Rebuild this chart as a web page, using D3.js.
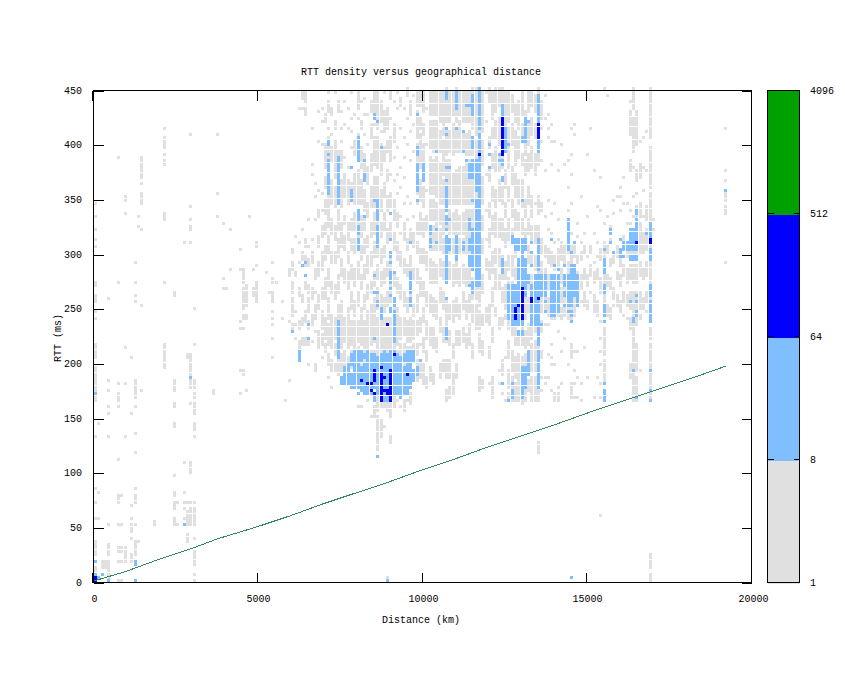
<!DOCTYPE html>
<html>
<head>
<meta charset="utf-8">
<script src="https://cdn.jsdelivr.net/npm/d3@7"></script>
<style>
body { margin: 0; background: #fff; }
text { font-family: "Liberation Mono", "DejaVu Sans Mono", monospace; font-size: 10px; fill: #000; }
</style>
</head>
<body>
<div id="chart"></div>
<script>
var xTicks = [0, 5000, 10000, 15000, 20000];
var yTicks = [0, 50, 100, 150, 200, 250, 300, 350, 400, 450];
var barTicks = [1, 8, 64, 512, 4096];
var barColors = ["#e0e0e0", "#80bfff", "#0000ff", "#00a000"];

// minimum RTT line
var minKm = [0, 1000, 2000, 3000, 3800, 5000, 6000, 7000, 8000, 9000, 10000, 11000, 12000, 13000, 14000, 15300, 16000, 17000, 18100, 19230];
var minMs = [1, 10, 21, 31, 40, 51, 61, 72, 82, 92, 103, 113, 124, 134, 144, 158, 165, 175, 186, 198];

// density cells: [distance km, "rtt ranges in ms"]
var greyRuns = [
[0,"347 334 322 313 308 275-271 263 258-255 248 242 216-204 195-166 133 86 74 57 36-24 12-9"],
[100,"144 83 59"],[300,"20-13"],[200,"20-13"],
[400,"259 185 176 159 153 132 53 33-25 20-5"],
[700,"389 275 180 173-167 159 113 79-74 53 32-27 18 2"],
[800,"80 53 32-27 18 2"],
[900,"353-350 338 215 180 134 32-20"],
[1100,"206 153 71 59 53-47 40 25-20"],
[1200,"292 275 263 256 183-170 159 137 117 86 80-73 53 36-25"],
[1300,"334 326 38"],
[1400,"389-374 371 365 356-350 345 322 254 176"],
[1800,"56-52"],
[2100,"415 407-397 392 385-381 338-331 275 218 213 210-196"],
[2400,"266-262 183-178 176 164-160 146-142 98 83-79 74-66 59-52"],
[2500,"74 53"],
[2700,"310 108 83 74 66 57"],
[2800,"208-205 74 64-52 44-38"],
[2900,"410 343 332 326-322 310 207-190 185-178 162 108-100 74 66-60 57-52"],
[3000,"250 218 185-178 173-170 162-158 155 144-139 134 74 66-60 57-52 40 27-15 8 2"],
[3600,"176 171"],
[3700,"410 355 334"],[3900,"329 276 268"],[4000,"268"],[4100,"322 287"],
[4400,"305 286 239 233 193 171"],
[4500,"286-274 268-261 259-254 249 245-240 233 193-191"],
[4600,"270-262 258-252 245-240 176"],
[4700,"334"],[4800,"287 268-263"],
[4900,"311-306 290 275-271 268-262 259-256"],
[5200,"284"],[5300,"265"],
[5400,"292 277 273 265-256 247 241 236 222 206"],
[5500,"275"],[5700,"257 242"],[5800,"167"],
[5900,"286-280 239 185"],
[6000,"303-300 291-285 273-264 258-252 249-243 234-231"],
[6100,"315 282-279 246 234 222"],
[6200,"432 309 291 267-261 237-231 219-213"],
[6300,"447-441 432 321 300-294 288 261-255 240-234 222-216"],
[6400,"447-438 432-426 312-306 297-288 273-267 246-237 222-216"],
[6500,"330 306 294-288 270-264 258-246 237-231 222-216 198"],
[6600,"414 381 372 312 300-291 267-258 243-234 219"],
[6700,"363 351 330 285-276 264 252-240 228 198-192"],
[6800,"429 402 357 339-333 315-306 291-279 261-249 228-213"],
[6900,"432 420 399 354 339 324-315 300-285 267-258 246-231 225-216 204"],
[7000,"426-420 399-378 369-360 348-336 327-318 306-294 276-258 240-222 216-210"],
[7100,"447 438-429 414 405-345 342-324 315-300 285-270 258-240 234-216 207-198 186"],
[7200,"432-426 408 396-384 366-345 330-318 300-291 273-264 243-213 201-192 177"],
[7300,"447 420-414 402-369 360-342 324-312 300-291 270-258 240-222 216-207 198-192"],
[7400,"438-429 393-345 339-321 312-297 279-264 252-240 237-204 201-189"],
[7500,"429 414 402 393-378 366-342 327-306 294-279 255-240 237-213 207-192"],
[7600,"438 417 387 372-351 333-327 315-303 285-273 240-219 210-192 186"],
[7700,"432 414 378 366-345 327-312 300-291 282-267 249-237 234-213 204-192 180"],
[7800,"447 423 411 396 363-348 330-321 312-303 288-276 264-249 237-216 210-195 183"],
[7900,"426 402-390 372-345 336-321 312-300 285-270 255-243 237-219 216-195 177"],
[8000,"447-432 423 408-384 375-345 339-327 324-303 291-276 264-252 237-219 213-190 160"],
[8100,"438 420-414 396-378 366-345 333-315 306-294 279-267 249-234 231-216 210-192 160"],
[8200,"441 426 408 390-372 357-339 330-321 312-300 288-276 261-249 237-219 216-192"],
[8300,"426 399 378-363 345-333 315-306 297-282 270-258 246-234 231-219 216-198 165"],
[8400,"438-429 417-405 390-375 360-342 327-315 300-288 273-264 252-240 237-216 210-195 150"],
[8500,"447-423 417 405-381 369-342 336-318 309-297 282-270 258-243 240-219 210-195 159-150"],
[8600,"447-414 405-378 369-345 333-315 312-297 288-276 267-249 240-219 216-198 168-156 150-120"],
[8700,"438-420 411 399-372 357-339 327-315 303-291 282-270 261-246 240-219 216-201 165-159 147-132"],
[8800,"447 429-411 396-384 363-351 336-321 306-297 285-273 258-246 240-219 216-207 165-159 141"],
[8900,"432-414 402-393 375-366 351-339 321-309 291-279 264-252 240-219 216-207 168-156 5-0"],
[9000,"447-441 423 405-384 372 354-342 327-312 297-285 270-255 240-216 213-207 162-150 132-126"],
[9100,"438 417-402 387 366 348-330 318-303 282-270 255-243 240-216 213-204 168-159"],
[9200,"447 432 396 372 354 336-324 309-294 276-264 249-237 234-216 210-198 165"],
[9300,"441-435 414 378 360 333 318 300-288 270-258 240-222 216-198 159"],
[9400,"432 405 387 369 345 327-312 294-282 264-252 240-225 216-198 165-156"],
[9500,"450-444 423 399 351 330 312-303 288-279 258-246 237-219 213-204 165"],
[9600,"438-426 411 384 345 321-309 297-285 270-258 240-219 213-204 171-162"],
[9700,"444 417 393 333 318-306 285-276 252-243 237-222 216-207 192-183"],
[9800,"447-435 429-405 399-372 369-354 345 327-318 309-300 285-273 261-246 237-225 216-207 201-183"],
[9900,"447-435 423-414 408-378 366-348 336-318 303-291 276-261 240-228 216 201-186"],
[10000,"447-429 417-408 399-366 360-342 330-315 303-291 273-261 249-237 222-210 198-180"],
[10100,"432 399 357 333-321 300-285 264-252 237-222 210-201 186-177"],
[10200,"447-426 420-396 387-354 348-330 324-303 294-273 261-246 231-216 195-183"],
[10300,"447-426 420-393 384-354 348-330 324-303 291-273 258-243 231-213 189-180"],
[10400,"447-426 420-393 387-351 345-327 324-303 288-273 255-240 222-210"],
[10500,"447-420 411-393 381-345 339-327 321-303 294-279 267-255 240-228 198-186"],
[10600,"447-408 402-372 366-345 339-318 312-300 291-276 264-249 231-219 201-192"],
[10700,"450-420 411-390 384-339 333-321 315-300 294-276 255-240 237-219 201-186 174-165"],
[10800,"447-420 411-393 384-345 339-318 312-300 291-276 252-240 228-216 201-186 177-168"],
[10900,"447-426 417-390 372-345 336-318 312-300 288-270 255-237 216-204 189-171"],
[11000,"450-420 414-393 375-345 339-315 309-300 291-273 258-243 228-216 198-186"],
[11100,"447-426 420-393 378-345 333-318 312-300 285-270 252-240 228-216"],
[11200,"447-420 411-393 378-345 336-318 312-300 288-273 264-249 231-219"],
[11300,"447-420 408-390 381-345 339-315 312-300 285-270 255-240 225-213"],
[11400,"447-420 411-390 384-345 339-315 309-300 291-273 261-246 234-216"],
[11500,"450-414 405-390 384-345 339-306 303-285 276-258 252-237 216-204"],
[11600,"450-408 402-378 372-345 339-306 303-285 276-258 252-231"],
[11700,"450-405 396-378 372-342 336-306 303-285 279-252 246-231 225-210 186-174"],
[11800,"447-411 402-381 369-345 333-321 312-300 279-264 243-234 219-207 183-177"],
[11900,"447 420 372 339 312 294-285 249-237"],
[12000,"450-438 405-396 378-366 345-333 321-306 291-276 252-234 213-204 180"],
[12100,"447-423 414-405 390-378 360-348 333-318 300-282 267-252 231-219 186-168"],
[12200,"450-429 420-405 396-375 357-342 336-315 303-291 285-267 249-243"],
[12300,"450-435 423-399 390-375 366-348 330-315 303-288 279-267 240-231 192 180"],
[12400,"450-432 423-393 390-378 360-345 330-312 297-276 267-255 240-234 201-189 171"],
[12500,"447-432 429-393 375-360 345-333 321-306 291-276 270-249 243-240 204 165"],
[12600,"447-420 414-378 360-348 330-312 297-285 276-258 243-231 219-204 192-177 171-165"],
[12700,"444-429 417-399 378-363 348-333 321-309 297-279 273-240 237-225 210-192 186-165"],
[12800,"435-420 411-381 372-351 339-321 312-297 285-276 270-240 231-216 204-186 180-165"],
[12900,"438-414 405-387 366-345 336-321 312-303 291-279 270-240 228-216 207-183 180-165"],
[13000,"447-426 417-405 390-381 366-342 330-318 309-294 285-273 270-240 234-216 204-186 177-162"],
[13100,"429-414 405-390 384-372 348-333 321-306 294-282 276-240 228-213 207-186 180-165"],
[13200,"447-429 417-399 390-375 360-345 330-318 306-291 279-267 258-246 234-216 210-192 183-174"],
[13300,"447-435 423-408 396-378 351-333 324-312 300-288 279-246 240-222 216-192 186-165"],
[13400,"444-429 417-405 390-372 345 324-309 297-285 276-252 240-228 219-192 186-165"],
[13500,"450-396 390-381 351-336 324-306 297-282 276-240 231-165 126-117"],
[13600,"438-423 414 402 384 345-339 312-300 291-276 270-246 237-228 210-204 186 174"],
[13700,"444 423 375 333 306-297 285-270 258-249 234 186 180"],
[13800,"426 414 405 348 321 303-291 279-267 258-243 234 207 186"],
[13900,"417 402 381 336 318 300-288 279-261 252-240 216 204 198 174"],
[14000,"402 345 309 297-285 276-258 252-240 198 171-165"],
[14100,"375 330 312 303-288 279-261 255-243 228 177 171-165"],
[14200,"399 309-294 285-273 267-255 249-240 210 180"],
[14300,"381 306 303-288 279-264 258-243 222"],
[14400,"384 360 339 312-300 291-276 270-255 249-240 198"],
[14500,"414 390 372 345 318 306-291 282-264 258-240 216-204 180-168"],
[14600,"417 408 309-297 288-270 264-243 210 192 180 168"],
[14700,"327 315 297-291 282-270 255 210 186 168"],
[14800,"351 309 300-294 279-267 255 180 165"],
[14900,"318 306-300 285-276 264-252 213"],
[15000,"390 333 297 279-270 255-249 186"],
[15100,"414 306-300 288-279 264"],
[15200,"375 318 291 282-273 261-246 168"],
[15300,"342 309 297 285-276 255-243 186"],
[15400,"369 339 303-294 276-264 237 222 210 198 180 168 61"],
[15500,"450 327 309-297 288-273 261-243 231-207 201-183 174-165"],
[15600,"444 333 306-300 279-270 252-243"],
[15700,"324 312 294-288 276-267 249-240"],
[15800,"348 336 300-291 267-258 252"],
[15900,"351 306-297 282-276 261-252"],
[16000,"360 351 339 294-288 279-270 255-246"],
[16100,"369 345 315-303 288-279 264-255 243"],
[16200,"345 327 309-297 285-273 261-252 240"],
[16300,"438 429-408 384-375 339 327 321-300 288-276 264-249 240-231 198-186"],
[16400,"450-432 423-393 378 351 333 321-300 288-273 264-249 246-231 228-165"],
[16500,"429-411 408-399 375-366 354 342-300 288-273 264-249 246-234 216-192 186-165"],
[16600,"402 381-369 345-333 327-300 291-279 264-249 243-240 192"],
[16700,"405 378 357 333 318-300 285-276 258-249"],
[16800,"411 375 342-330 321-303 291-279 264-255 246"],
[16900,"450-405 396-360 354-321 318-300 291-258 255-237 231-222 216-195 192-165 24-12 6-0"],
[17000,"330 321"],
[19200,"416 376 368 356-348 343-336 293"]
];

var lightRuns = [
[0,"173 19 6"],[100,"3"],[200,"8"],[400,"2"],[1200,"20-15 2"],[2700,"52"],[2900,"188"],
[6000,"229"],[6200,"212-202"],[6300,"290"],[6400,"292 280"],[6500,"235 222"],
[7100,"402-399 392-390 386-367 365-358 356"],
[7400,"389-370 368-345 238-219 217-204"],
[7500,"188-181"],
[7600,"190"],
[7800,"380 359-350 208-199"],
[8000,"405-384 339-330 324-318 313-303"],
[8200,"384 374-367 335"],
[8500,"428-423 350 280 266 223"],
[8600,"420 348-330 324-318 315-306 257-252 264"],
[8700,"398 249-240"],
[9000,"338 313 301-297 292 283-274 269 263 249-246"],
[9100,"284 260-252 246-242 240-219"],
[9600,"310 284-264 260-252"],
[9800,"428 396-390 383-376 376-368 365-358 350"],
[10000,"383-368"],
[10200,"324-318 313-306"],
[10400,"394 322 309"],
[10700,"447-441 415 409 380 368 362-339 333-327 321 315-304 301-290 285-274 258 232-222"],
[10800,"380 330 313 309-304"],
[11000,"447-438 437-432 415 315-304 301-295"],
[11200,"413 394 309-304"],
[11300,"435 385"],
[11400,"435 383-378 376-370 330-322 321 313-304 298-288 270"],
[11500,"446-429 428 405-397 385-378 376-370 350 321-304 303-286 273-264"],
[11600,"386-367 365-358 348-324 321-306 303-270"],
[11700,"450-436 432-429 428-414 410-394 388-304 303-270"],
[12000,"401 390 380 378"],
[12300,"390 385"],
[12400,"435-429 428-425 390 386-382 371-367 294-283 182"],
[12500,"416-409 408-397 395"],
[12600,"401 272-262 260-240 167"],
[12700,"316-309 272-262 260-240 239-234 181 176-170"],
[12800,"313-304 272-262 260-240 239-234"],
[12900,"313-304 296-284 281-274 272-262 260-240 239-234 230-225"],
[13000,"405-403 350 313-295 294-284 281-274 272-262 260-240 239-234 230-225 197-191 188-170"],
[13100,"423-418 415-409 405-403 313-304 294-284 281-274 272-262 188-179 197-191"],
[13200,"420 281-274 210-199 197-190"],
[13300,"310 300 290 272-262 260-251 249-240 239-234"],
[13400,"272-262 260-251 249-240 239-234 281-274"],
[13500,"445-440 437-429 428-421 419-418 404-397 395-394 313-286 281-274 272-262 260-240 239-234 231-222 219-216 211-199 197-190 188-179"],
[13600,"281-274 272-262 234"],
[13700,"281-274 272-262 257 246"],
[13900,"313 281-274 272-262 260-251 249-244"],
[14000,"290 281-274 272-262 260-251 249-243"],
[14100,"286 281-274 272-262 260-251 246"],
[14300,"290 281-272 266-262 254"],
[14400,"330-324 321-304 281-274 272-262 260-252 248"],
[14500,"301 290-284 281-274 272-262 260-252 248-243 239"],
[14600,"310 290-284 281-274 272-262"],
[14700,"281-274 272-262 260-252"],
[15500,"305 294-283 271-265 254-243 237 182 176-165"],
[15700,"322-318 310 321"],
[15800,"301"],
[16000,"313 304-298"],
[16100,"310-304 298"],
[16200,"309-304"],
[16300,"322-304 298-295 257"],
[16400,"322-304 298-295 241-237 194"],
[16500,"341-336 331-324 322-304 298-295 263 257 248-243 168"],
[16800,"318"],
[16900,"329-324 321-316 304-295 272-262 257-251 246-243 241-237 194 176 167"],
[19200,"359"],
[8600,"116"],[14500,"3"],[8900,"2"],
// main blob around 9000 km
[7600,"197-190 187-181"],
[7700,"199-190 187-181"],
[7800,"190 187-178"],
[7900,"211-190 187-178"],
[8000,"211-199 196-190 187-178 172"],
[8100,"211-202 196-190 187-175"],
[8200,"208-205 199 196-172"],
[8300,"211-199 196-172"],
[8400,"208-172"],
[8500,"208-178 172-166"],
[8600,"205-172"],
[8700,"208-172"],
[8800,"211-166"],
[8900,"208-166"],
[9000,"211-166"],
[9100,"211-178 175-172"],
[9200,"208-172"],
[9300,"205-169"],
[9400,"208-202 196-172"],
[9500,"211-199 196-178 175-172"],
[9600,"211-199 196-178"],
[9700,"211-202 193-184"],
[9800,"196-190"],[9900,"203"]
];

var blueRuns = [
[0,"3-0"],
[8100,"185"],[8300,"180"],[8400,"180 175"],
[8500,"194-184 173"],
[8700,"197 191 188-169 167"],
[8800,"187 176"],
[8900,"235 176 173"],
[9000,"194-190 188-169 167"],
[9100,"209"],[9500,"191"],
[11700,"390"],
[12400,"423-418 416-409 408-397 396-391"],
[12800,"251-241"],
[12900,"254"],
[13000,"269-262 260-254 254 249-242"],
[13300,"260-256"],
[13500,"419-418 416-409 408-406 259"],
[16500,"310"],
[16900,"313-309"]
];

var frameLeft = 93.5, frameRight = 751.5, frameTop = 90.5, frameBottom = 582.5;
var barLeft = 767.5, barRight = 799.5;

var x = d3.scaleLinear().domain([0, 20000]).range([92.5, 751.5]);
var y = d3.scaleLinear().domain([0, 450]).range([frameBottom, frameTop]);
var bar = d3.scaleLog().base(2).domain([1, 4096]).range([frameBottom, frameTop]);
// the density cells step a little tighter than the axis
var cellX = d3.scaleLinear().domain([0, 20000]).range([94.2, 750.2]);

var valueline = d3.line()
    .x(function(d) { return x(d.km); })
    .y(function(d) { return y(d.ms); });

var svg = d3.select("#chart").append("svg")
    .attr("width", 845)
    .attr("height", 673)
    .style("display", "block");

// turns "447-441 432" into one cell per 3 ms bin
function parseRuns(runs){
    var cells = [];
    runs.forEach(function(run){
        run[1].split(" ").forEach(function(part){
            var ends = part.split("-").map(Number);
            var hi = Math.floor(ends[0] / 3);
            var lo = Math.floor(ends[ends.length - 1] / 3);
            d3.range(lo, hi + 1).forEach(function(bin){
                cells.push({ km: run[0], ms: bin * 3 });
            });
        });
    });
    return cells;
}

function drawCells(runs, color){
    svg.append("g")
        .attr("shape-rendering", "crispEdges")
        .selectAll("rect")
        .data(parseRuns(runs))
        .enter().append("rect")
        .attr("x", function(d) { return Math.round(cellX(d.km)); })
        .attr("y", function(d) { return Math.round(y(d.ms + 3)); })
        .attr("width", 3)
        .attr("height", 3)
        .attr("fill", color);
}

drawCells(greyRuns, barColors[0]);
drawCells(lightRuns, barColors[1]);
drawCells(blueRuns, barColors[2]);

svg.append("path")
    .datum(minKm.map(function(km, i) { return { km: km, ms: minMs[i] }; }))
    .attr("d", valueline)
    .attr("fill", "none")
    .attr("stroke", "#2e8b57")
    .attr("stroke-width", 1)
    .attr("shape-rendering", "crispEdges");

var frame = svg.append("g").attr("shape-rendering", "crispEdges");

frame.append("rect")
    .attr("x", frameLeft)
    .attr("y", frameTop)
    .attr("width", frameRight - frameLeft)
    .attr("height", frameBottom - frameTop)
    .attr("fill", "none")
    .attr("stroke", "#000");

// ticks point inward on all four sides
yTicks.forEach(function(t){
    var py = Math.round(y(t)) + 0.5;
    frame.append("line").attr("x1", frameLeft).attr("x2", frameLeft + 10).attr("y1", py).attr("y2", py).attr("stroke", "#000");
    frame.append("line").attr("x1", frameRight - 10).attr("x2", frameRight).attr("y1", py).attr("y2", py).attr("stroke", "#000");
    svg.append("text")
        .attr("x", 82)
        .attr("y", py + 2.5)
        .attr("text-anchor", "end")
        .text(t);
});

xTicks.forEach(function(t){
    var px = Math.floor(x(t)) + 0.5;
    frame.append("line").attr("x1", px).attr("x2", px).attr("y1", frameBottom).attr("y2", frameBottom - 10).attr("stroke", "#000");
    frame.append("line").attr("x1", px).attr("x2", px).attr("y1", frameTop).attr("y2", frameTop + 10).attr("stroke", "#000");
    svg.append("text")
        .attr("x", (t == 0 || t == 20000) ? px + 2 : px + 1)
        .attr("y", 602)
        .attr("text-anchor", "middle")
        .text(t);
});

svg.append("text").attr("x", 421).attr("y", 74.5).attr("text-anchor", "middle").text("RTT density versus geographical distance");
svg.append("text").attr("x", 421).attr("y", 622.5).attr("text-anchor", "middle").text("Distance (km)");
svg.append("text")
    .attr("transform", "translate(60.5,338) rotate(-90)")
    .attr("text-anchor", "middle")
    .text("RTT (ms)");

// colour bar, the inner band edges sit one pixel under the tick rows
var bands = d3.pairs(barTicks);
frame.selectAll(".band")
    .data(bands)
    .enter().append("rect")
    .attr("class", "band")
    .attr("x", barLeft)
    .attr("width", barRight - barLeft)
    .attr("y", function(d) { return d[1] == 4096 ? frameTop : bar(d[1]) + 1; })
    .attr("height", function(d) { return d[1] == 4096 ? bar(d[0]) + 1 - frameTop : bar(d[0]) - bar(d[1]); })
    .attr("fill", function(d, i) { return barColors[i]; });

frame.append("rect")
    .attr("x", barLeft)
    .attr("y", frameTop)
    .attr("width", barRight - barLeft)
    .attr("height", frameBottom - frameTop)
    .attr("fill", "none")
    .attr("stroke", "#000");

barTicks.forEach(function(t){
    var py = Math.round(bar(t)) + 0.5;
    if(t != 1 && t != 4096){
        frame.append("line").attr("x1", barLeft).attr("x2", barLeft + 6).attr("y1", py - 1).attr("y2", py - 1).attr("stroke", "#000");
        frame.append("line").attr("x1", barRight - 6).attr("x2", barRight).attr("y1", py - 1).attr("y2", py - 1).attr("stroke", "#000");
    }
    svg.append("text")
        .attr("x", 810)
        .attr("y", py + 2.5)
        .text(t);
});
</script>
</body>
</html>
